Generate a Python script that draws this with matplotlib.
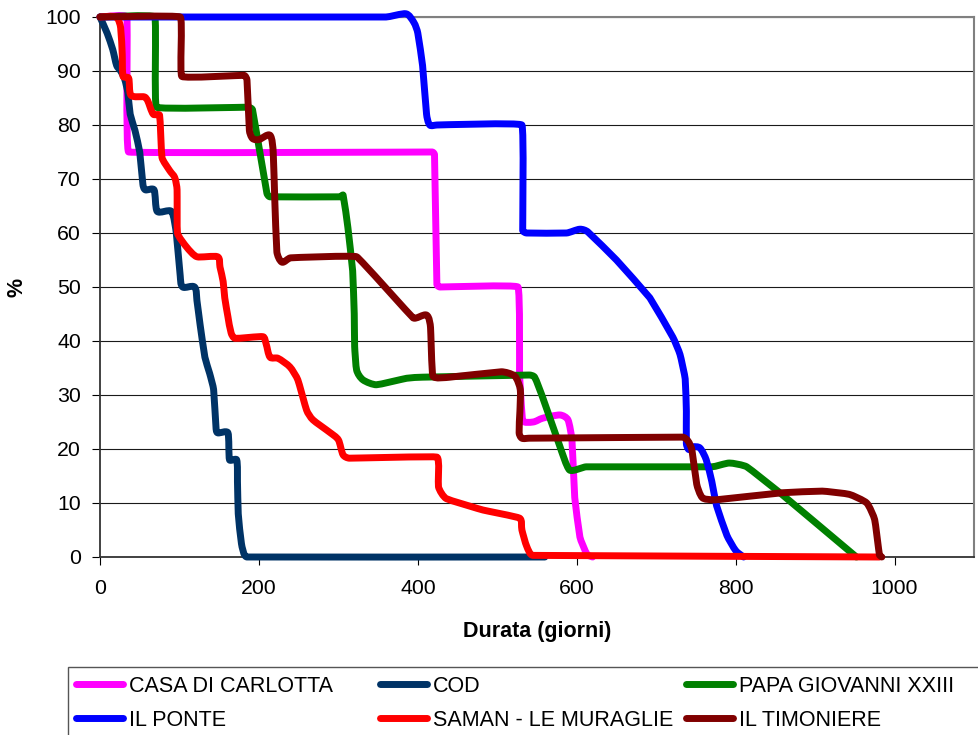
import numpy as np
import matplotlib
matplotlib.use("Agg")
import matplotlib.pyplot as plt
from matplotlib.path import Path
from matplotlib.patches import PathPatch, Rectangle
from matplotlib.lines import Line2D

plt.rcParams['font.family'] = ['Liberation Sans', 'DejaVu Sans']

# ---- data: survival (%) versus duration (days) ----
series_names = ["CASA DI CARLOTTA", "COD", "PAPA GIOVANNI XXIII",
                "IL PONTE", "SAMAN - LE MURAGLIE", "IL TIMONIERE"]
series_colors = ["#FF00FF", "#003366", "#008000", "#0000FF", "#FF0000", "#800000"]

casa_x = [0, 34, 36, 418, 421, 424, 428, 526, 528, 532, 545, 557, 579, 589, 594, 597.5, 604, 613, 620]
casa_y = [100, 100, 75, 75, 74.5, 50.5, 50, 50, 34, 25.3, 25, 25.7, 26.3, 25.4, 21.7, 11, 3.7, 0.5, 0]

cod_x = [0, 9, 16, 21, 26, 31, 35, 38, 44, 50, 54, 57, 68, 72, 90, 96, 101, 104, 119, 122, 126, 132,
         138, 143, 146, 148, 161, 163, 172, 173, 174, 178, 185, 560]
cod_y = [100, 97, 94, 91, 90, 88.5, 86, 82, 79, 75, 69, 68, 68, 64, 64, 60, 52, 50, 50, 47.5, 43, 37,
         34, 31, 24, 23, 23, 18, 18, 14, 8, 2.5, 0, 0]

papa_x = [0, 69, 71, 186, 192, 210, 214, 302, 306, 312, 318, 320, 320.5, 323, 331, 348, 386, 406,
          540, 547, 557, 579, 591, 612, 770, 792, 814, 859, 952]
papa_y = [100, 100, 83.3, 83.3, 82.8, 67.4, 66.7, 66.7, 67, 61, 53, 45, 39, 34.6, 32.8, 31.9, 33.1, 33.3,
          33.7, 33.3, 29.6, 20.4, 16.1, 16.7, 16.7, 17.4, 16.7, 11.5, 0]

ponte_x = [0, 360, 385, 395, 400, 406, 411, 415, 424, 531, 532, 537, 587, 604, 614, 650, 692, 721,
           730, 736.5, 738, 738, 741, 746, 755, 763, 770, 776, 789, 800, 810]
ponte_y = [100, 100, 100.6, 99, 97, 91, 82, 80, 80, 80, 60.5, 60, 60, 60.7, 60.2, 55, 48, 40.7,
           37.5, 33, 27, 21, 19.9, 20.4, 20.2, 18, 14, 9.5, 4, 1.2, 0]

saman_x = [0, 20, 26, 28, 29, 36, 39, 56, 60, 67, 75, 78, 88, 94, 97, 97.5, 109, 122, 148, 151,
           155, 157, 161, 165, 170, 205, 209, 214, 224, 239, 249, 260, 268, 289, 300, 306, 314,
           424, 426, 436, 482, 528, 531, 537, 545, 981]
saman_y = [100, 100, 98, 93, 89, 88.7, 85.5, 85.2, 84.5, 82, 81.8, 74, 71.5, 70.3, 68, 60, 57.4, 55.6,
           55.6, 53.7, 51, 48, 44.5, 41.5, 40.5, 40.8, 39.5, 37, 36.8, 35.2, 32.8, 27.2, 25.4, 23.1,
           21.7, 18.9, 18.3, 18.5, 13, 10.8, 8.7, 7.2, 5, 2, 0.3, 0]

timon_x = [0, 101, 103, 181, 185, 188, 192, 200, 214, 218, 220, 222.6, 229, 240, 323, 394, 411, 416,
           419, 440, 505, 522, 529, 528.5, 527.5, 531, 540, 733, 740, 745, 751, 758, 770, 776, 859,
           909, 943, 965, 975, 981, 984]
timon_y = [100, 100, 89, 89.2, 88.3, 79, 77.5, 77.3, 78.1, 75, 66, 56.5, 54.6, 55.4, 55.6, 44.3, 44.8,
           42.5, 33.5, 33.3, 34.3, 33.5, 31, 27, 23, 22, 22, 22.2, 21.5, 19.8, 13.5, 11, 10.6, 10.6,
           11.9, 12.2, 11.6, 10, 6.9, 0.4, 0]

series_x = [casa_x, cod_x, papa_x, ponte_x, saman_x, timon_x]
series_y = [casa_y, cod_y, papa_y, ponte_y, saman_y, timon_y]

x_ticks = [0, 200, 400, 600, 800, 1000]
y_ticks = list(range(0, 101, 10))
x_label = "Durata (giorni)"
y_label = "%"

LINE_W = 5.0
FS = 15.5


def smooth_path(ax, xs, ys, max_off=3.5, frac=0.3):
    """Catmull-Rom style smoothed line, built in display space with
    short clamped control handles, returned as a Bezier Path in data space."""
    pts = ax.transData.transform(np.column_stack([xs, ys]))
    n = len(pts)
    verts = [pts[0]]
    codes = [Path.MOVETO]
    for i in range(n - 1):
        p0 = pts[i - 1] if i > 0 else pts[i]
        p1 = pts[i]
        p2 = pts[i + 1]
        p3 = pts[i + 2] if i + 2 < n else pts[i + 1]
        seg = np.hypot(*(p2 - p1))
        lim = min(frac * seg, max_off)
        t1 = (p2 - p0) / 6.0
        t2 = (p3 - p1) / 6.0
        for t in (t1, t2):
            L = np.hypot(*t)
            if L > lim and L > 0:
                t *= lim / L
        verts += [p1 + t1, p2 - t2, p2]
        codes += [Path.CURVE4] * 3
    verts = ax.transData.inverted().transform(np.array(verts))
    return Path(verts, codes)


W, H = 979, 735
fig = plt.figure(figsize=(W / 100, H / 100), dpi=100)
ax = fig.add_axes([100 / W, 1 - 557 / H, 874 / W, 540 / H])
ax.set_xlim(0, 1100)
ax.set_ylim(0, 100)

ax.set_xticks(x_ticks)
ax.set_yticks(y_ticks)
ax.tick_params(axis='both', direction='out', length=5.8, width=0.8, color='black',
               labelsize=15.3, labelcolor='black')
ax.tick_params(axis='y', pad=8)
ax.tick_params(axis='x', pad=10)

ax.yaxis.grid(True, color='#1a1a1a', lw=0.8)
ax.set_axisbelow(True)
for side in ('left', 'bottom'):
    ax.spines[side].set_color('#333333')
    ax.spines[side].set_linewidth(1.3)
for side in ('top', 'right'):
    ax.spines[side].set_color('#808080')
    ax.spines[side].set_linewidth(1.5)

for xs, ys, col in zip(series_x, series_y, series_colors):
    patch = PathPatch(smooth_path(ax, xs, ys), fill=False, edgecolor=col, lw=LINE_W,
                      capstyle='round', joinstyle='round', clip_on=False, zorder=3)
    ax.add_patch(patch)

ax.set_xlabel(x_label, fontsize=FS, fontweight='bold', va='center')
ax.xaxis.set_label_coords(0.5, (557 - 632) / 540)
ax.set_ylabel(y_label, fontsize=FS, fontweight='bold', va='center')
ax.yaxis.set_label_coords((17 - 100) / 874, 0.5)

# legend: three columns laid out row by row, inside one framed box
fig.add_artist(Rectangle((68 / W, -0.05), 1.0, (735 - 667) / H + 0.05,
                         transform=fig.transFigure, fill=False, ec='#555555', lw=1.0))
col_left = [76.5, 380.5, 686.5]
for j in range(3):
    idx = [j, j + 3]
    handles = [Line2D([], [], color=series_colors[k], lw=LINE_W, solid_capstyle='round')
               for k in idx]
    labels = [series_names[k] for k in idx]
    fig.legend(handles, labels, loc='upper left',
               bbox_to_anchor=(col_left[j] / W, 1 - 676 / H),
               frameon=False, borderpad=0, borderaxespad=0, fontsize=FS,
               handlelength=2.15, handletextpad=0.28, labelspacing=0.6)

fig.savefig("out.png", dpi=100)
